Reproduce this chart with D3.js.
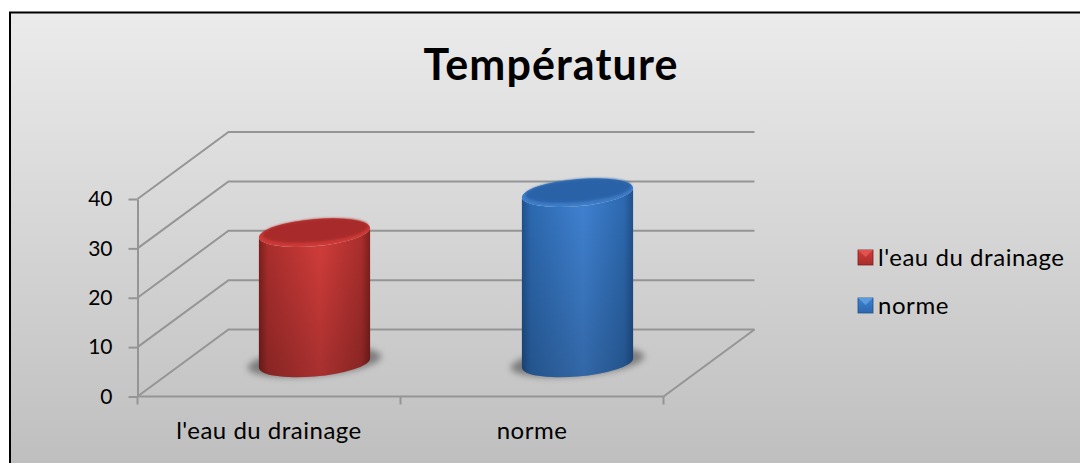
<!DOCTYPE html>
<html>
<head>
<meta charset="utf-8">
<title>Température</title>
<script src="https://d3js.org/d3.v7.min.js"></script>
<style>
  html, body { margin: 0; padding: 0; background: #fff; overflow: hidden; }
  svg { display: block; }
  text { font-family: Lato, "Open Sans", sans-serif; fill: #000; }
</style>
</head>
<body>
<svg width="1080" height="463"></svg>
<script>
var categories = ["l'eau du drainage", "norme"];
var values = [26.4, 34.5];
var yTicks = [0, 10, 20, 30, 40];
var titleText = "Température";

var palette = [
  {edge: "#7c1f1d", mid: "#d03c3a", low: "#a82e2c", top: "#a82c2a", rim: "#cc3a37", key: "#e2524f"},
  {edge: "#20508c", mid: "#3f80cf", low: "#2c68ae", top: "#2a62a8", rim: "#3d7cc6", key: "#5a9be0"}
];

var svg = d3.select("svg");
var defs = svg.append("defs");

// front edge of the floor and how far the walls are pushed back
var dx = 91, dy = -67;
var x = d3.scaleBand().domain(categories).range([137.5, 663.5]);
var y = d3.scaleLinear().domain([0, 40]).range([396.5, 199]);

var bg = defs.append("linearGradient").attr("id", "bg").attr("x2", 0).attr("y2", 1);
bg.append("stop").attr("offset", 0).attr("stop-color", "#ebebeb");
bg.append("stop").attr("offset", 1).attr("stop-color", "#bebebe");

defs.append("filter").attr("id", "blur").attr("x", "-20%").attr("y", "-50%").attr("width", "140%").attr("height", "200%")
  .append("feGaussianBlur").attr("stdDeviation", 3);
defs.append("filter").attr("id", "soft").attr("x", "-10%").attr("y", "-30%").attr("width", "120%").attr("height", "160%")
  .append("feGaussianBlur").attr("stdDeviation", 1.2);

palette.forEach(function (p, i) {
  var g = defs.append("linearGradient").attr("id", "side" + i);
  g.append("stop").attr("offset", 0).attr("stop-color", p.edge);
  g.append("stop").attr("offset", 0.08).attr("stop-color", p.low);
  g.append("stop").attr("offset", 0.55).attr("stop-color", p.mid);
  g.append("stop").attr("offset", 0.92).attr("stop-color", p.low);
  g.append("stop").attr("offset", 1).attr("stop-color", p.edge);
  var v = defs.append("linearGradient").attr("id", "fade" + i).attr("x2", 0).attr("y2", 1);
  v.append("stop").attr("offset", 0.1).attr("stop-color", "#000").attr("stop-opacity", 0);
  v.append("stop").attr("offset", 1).attr("stop-color", "#000").attr("stop-opacity", 0.2);
  var k = defs.append("linearGradient").attr("id", "key" + i).attr("x2", 0).attr("y2", 1);
  k.append("stop").attr("offset", 0).attr("stop-color", p.mid);
  k.append("stop").attr("offset", 1).attr("stop-color", p.low);
});

// chart area, the frame runs off the picture on the right and at the bottom
svg.append("rect").attr("x", 10).attr("y", 12.5).attr("width", 1080).attr("height", 460)
  .attr("fill", "url(#bg)").attr("stroke", "#000").attr("stroke-width", 2);

svg.append("text").attr("x", 551).attr("y", 80).attr("text-anchor", "middle")
  .style("font-size", "43px").style("font-weight", 700).style("letter-spacing", "1.1px").text(titleText);

// walls
var grid = "#959595";
yTicks.forEach(function (t) {
  svg.append("path").attr("fill", "none").attr("stroke", grid).attr("stroke-width", 2)
    .attr("d", d3.line()([
      [x.range()[0], y(t)],
      [x.range()[0] + dx, y(t) + dy],
      [x.range()[1] + dx, y(t) + dy]
    ]));
});
svg.append("path").attr("fill", "none").attr("stroke", grid).attr("stroke-width", 2)
  .attr("d", d3.line()([
    [x.range()[1] + dx, y(0) + dy],
    [x.range()[1], y(0)],
    [x.range()[0], y(0)]
  ]));

// axes
var yAxis = svg.append("g").attr("transform", "translate(" + x.range()[0] + ",0)")
  .call(d3.axisLeft(y).tickValues(yTicks).tickSize(9).tickSizeOuter(0).tickPadding(16));
yAxis.selectAll("path,line").attr("stroke", grid).attr("stroke-width", 2);
yAxis.selectAll("text").style("font-size", "21px").style("font-family", "Lato, sans-serif").attr("fill", "#000");

var xTicks = svg.append("g");
[0, 1, 2].forEach(function (i) {
  var px = x.range()[0] + i * x.step();
  xTicks.append("line").attr("x1", px).attr("x2", px).attr("y1", y(0)).attr("y2", y(0) + 8)
    .attr("stroke", grid).attr("stroke-width", 2);
});
categories.forEach(function (c) {
  svg.append("text").attr("x", x(c) + x.bandwidth() / 2).attr("y", 439).attr("text-anchor", "middle")
    .style("font-size", "24px").style("letter-spacing", "0.5px").text(c);
});

// tilted cylinders, sitting half way back on the floor
var rx = 55.8, ry = 13.5, tilt = -5 * Math.PI / 180;
var t0 = Math.atan(-(ry / rx) * Math.tan(tilt));
var tx = rx * Math.cos(t0) * Math.cos(tilt) - ry * Math.sin(t0) * Math.sin(tilt);
var ty = rx * Math.cos(t0) * Math.sin(tilt) + ry * Math.sin(t0) * Math.cos(tilt);
var tiltDeg = tilt * 180 / Math.PI;

function ell(sel, cx, cy, a, b) {
  return sel.append("ellipse").attr("rx", a).attr("ry", b)
    .attr("transform", "translate(" + cx + "," + cy + ") rotate(" + tiltDeg + ")");
}

categories.forEach(function (c, i) {
  var cx = x(c) + x.bandwidth() / 2 + dx / 2;
  var base = y(0) + dy / 2;
  var topY = y(values[i]) + dy / 2;
  var g = svg.append("g");
  var p = palette[i];

  ell(g, cx, base - 1, 67, 14).attr("fill", "#555").attr("opacity", 0.65).attr("filter", "url(#blur)");

  var body = "M" + (cx - tx) + "," + (topY - ty)
    + "A" + rx + "," + ry + " " + tiltDeg + " 0 0 " + (cx + tx) + "," + (topY + ty)
    + "V" + (base + ty)
    + "A" + rx + "," + ry + " " + tiltDeg + " 0 1 " + (cx - tx) + "," + (base - ty) + "Z";
  g.append("path").attr("d", body).attr("fill", "url(#side" + i + ")");
  g.append("path").attr("d", body).attr("fill", "url(#fade" + i + ")");

  ell(g, cx, topY, rx, ry).attr("fill", p.rim);
  ell(g, cx + 1, topY - 2, rx - 3, ry - 2).attr("fill", p.top).attr("filter", "url(#soft)");
});

// legend
var legendY = [258, 306];
categories.forEach(function (c, i) {
  svg.append("rect").attr("x", 858).attr("y", legendY[i] - 8).attr("width", 15).attr("height", 15)
    .attr("fill", "url(#key" + i + ")").attr("stroke", palette[i].edge).attr("stroke-width", 0.8);
  svg.append("path").attr("d", "M858," + (legendY[i] - 8) + "L873," + (legendY[i] - 8) + "L865.5," + (legendY[i] - 1) + "Z")
    .attr("fill", palette[i].key);
  svg.append("text").attr("x", 878).attr("y", legendY[i] + 8).style("font-size", "24px").style("letter-spacing", "0.55px").text(c);
});
</script>
</body>
</html>
